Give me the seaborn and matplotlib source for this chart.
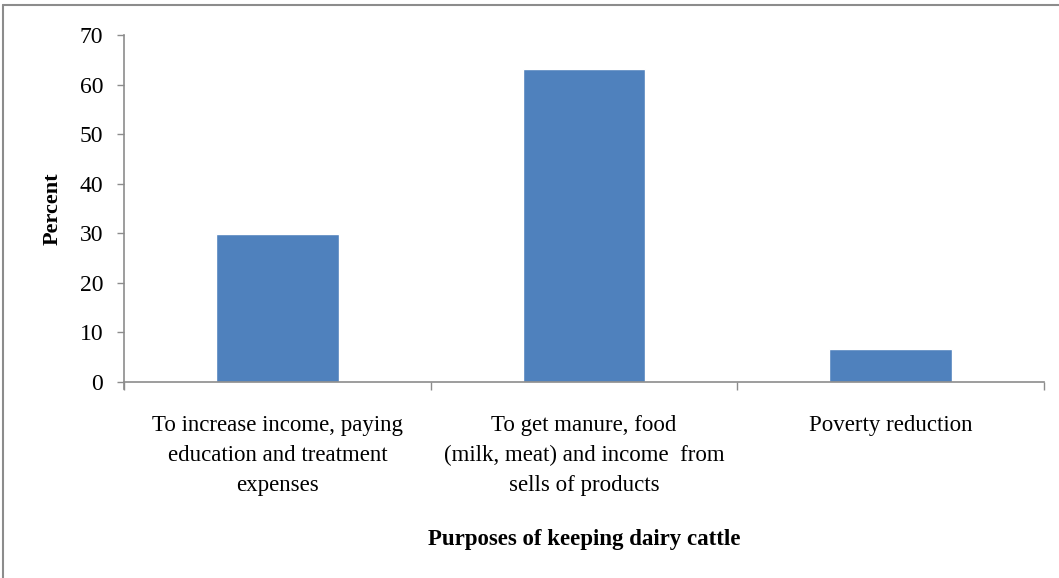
import matplotlib
matplotlib.use("Agg")
import matplotlib.pyplot as plt
from matplotlib.lines import Line2D
import seaborn as sns
import pandas as pd

categories = [
    "To increase income, paying\neducation and treatment\nexpenses",
    "To get manure, food\n(milk, meat) and income  from\nsells of products",
    "Poverty reduction",
]
percent = [29.8, 63.1, 6.6]
y_ticks = [0, 10, 20, 30, 40, 50, 60, 70]

sns.set_theme(style="white")
plt.rcParams["font.family"] = ["Liberation Serif", "DejaVu Serif"]
plt.rcParams["text.color"] = "black"
plt.rcParams["axes.labelcolor"] = "black"
plt.rcParams["xtick.labelcolor"] = "black"
plt.rcParams["ytick.labelcolor"] = "black"

df = pd.DataFrame({"purpose": categories, "percent": percent})

fig = plt.figure(figsize=(10.59, 5.78), dpi=100)
ax = fig.add_axes([0.1171, 0.3391, 0.8687, 0.6003])

sns.barplot(data=df, x="purpose", y="percent", color="#4F81BD",
            saturation=1, width=0.4, ax=ax)

ax.set_ylim(0, 70)
ax.set_yticks(y_ticks)
ax.set_xlim(-0.5, len(categories) - 0.5)

# category boundaries carry the tick marks, labels sit at the bar centres
ax.set_xticks([i - 0.5 for i in range(len(categories) + 1)])
ax.set_xticklabels([""] * (len(categories) + 1))
ax.set_xticks(range(len(categories)), minor=True)
ax.set_xticklabels(categories, minor=True, fontsize=16.5, linespacing=1.55)
ax.tick_params(axis="x", which="major", direction="out", length=6,
               width=1, color="#8C8C8C", bottom=True)
ax.tick_params(axis="x", which="minor", length=0, pad=24, bottom=True)
ax.tick_params(axis="y", direction="out", length=5, width=1,
               color="#8C8C8C", labelsize=17, pad=10, left=True)

for side in ["top", "right"]:
    ax.spines[side].set_visible(False)
for side in ["left", "bottom"]:
    ax.spines[side].set_color("#8C8C8C")
    ax.spines[side].set_linewidth(1.2)
ax.spines["left"].set_bounds(-1.5, 70)

ax.set_ylabel("Percent", fontsize=16, fontweight="bold")
ax.set_xlabel("Purposes of keeping dairy cattle", fontsize=16.5,
              fontweight="bold")
ax.yaxis.set_label_coords(-0.067, 0.5)
ax.xaxis.set_label_coords(0.5, -0.425)

# outer chart frame
fig.add_artist(Line2D([0.003, 1.0], [0.992, 0.992], transform=fig.transFigure,
                      color="#8C8C8C", linewidth=1.5))
fig.add_artist(Line2D([0.003, 0.003], [0.0, 0.992], transform=fig.transFigure,
                      color="#8C8C8C", linewidth=1.5))

fig.savefig("out.png", dpi=100, facecolor="white")
